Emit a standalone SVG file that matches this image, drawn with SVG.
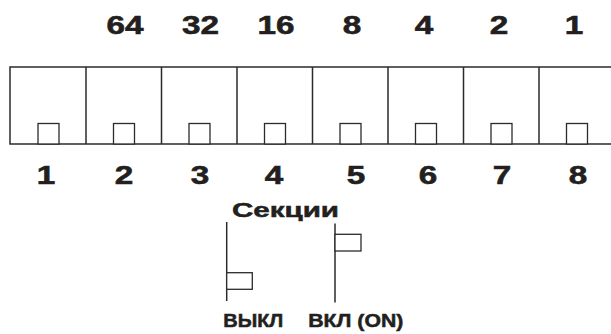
<svg xmlns="http://www.w3.org/2000/svg" width="611" height="334" viewBox="0 0 611 334">
<style>
.num{font-family:"Liberation Sans",Arial,sans-serif;font-weight:bold;font-size:26px;fill:#231f20;stroke:#231f20;stroke-width:0.6;text-anchor:middle}
.lbl{font-family:"Liberation Sans",Arial,sans-serif;font-weight:bold;fill:#231f20;stroke:#231f20;stroke-width:0.5}
.ln{stroke:#2b2b2b;stroke-width:1.5;fill:none}
.sq{stroke:#2b2b2b;stroke-width:1.3;fill:#fff}
</style>
<rect width="611" height="334" fill="#fff"/>
<g id="weights">
<text class="num" transform="translate(125,34) scale(1.28,1)">64</text>
<text class="num" transform="translate(200.5,34) scale(1.28,1)">32</text>
<text class="num" transform="translate(276,34) scale(1.28,1)">16</text>
<text class="num" transform="translate(352,34) scale(1.28,1)">8</text>
<text class="num" transform="translate(424,34) scale(1.28,1)">4</text>
<text class="num" transform="translate(499,34) scale(1.28,1)">2</text>
<text class="num" transform="translate(574,34) scale(1.28,1)">1</text>
</g>
<g id="switch-block">
<path class="ln" d="M611,67 H10 V144 H611"/>
<path class="ln" d="M86,67 V144 M161.5,67 V144 M237,67 V144 M312.5,67 V144 M388,67 V144 M463.5,67 V144 M539,67 V144"/>
</g>
<g id="sections">
<rect class="sq" x="38" y="123.5" width="21" height="20.5"/>
<rect class="sq" x="113.5" y="123.5" width="21" height="20.5"/>
<rect class="sq" x="189" y="123.5" width="21" height="20.5"/>
<rect class="sq" x="264.5" y="123.5" width="21" height="20.5"/>
<rect class="sq" x="340" y="123.5" width="21" height="20.5"/>
<rect class="sq" x="415.5" y="123.5" width="21" height="20.5"/>
<rect class="sq" x="491" y="123.5" width="21" height="20.5"/>
<rect class="sq" x="566.5" y="123.5" width="21" height="20.5"/>
</g>
<g id="section-numbers">
<text class="num" transform="translate(46,184) scale(1.28,1)">1</text>
<text class="num" transform="translate(124,184) scale(1.28,1)">2</text>
<text class="num" transform="translate(200,184) scale(1.28,1)">3</text>
<text class="num" transform="translate(274,184) scale(1.28,1)">4</text>
<text class="num" transform="translate(356,184) scale(1.28,1)">5</text>
<text class="num" transform="translate(428,184) scale(1.28,1)">6</text>
<text class="num" transform="translate(502,184) scale(1.28,1)">7</text>
<text class="num" transform="translate(578,184) scale(1.28,1)">8</text>
</g>
<g id="title">
<text class="lbl" x="232" y="217" font-size="21" textLength="107" lengthAdjust="spacingAndGlyphs">Секции</text>
</g>
<g id="off-legend">
<path class="ln" d="M226.7,222 V301"/>
<rect class="sq" x="226.7" y="272.7" width="25.6" height="16.6"/>
<text class="lbl" x="223.3" y="327" font-size="18" textLength="60" lengthAdjust="spacingAndGlyphs">ВЫКЛ</text>
</g>
<g id="on-legend">
<path class="ln" d="M335,223.5 V302.5"/>
<rect class="sq" x="335" y="234.3" width="26" height="16.7"/>
<text class="lbl" x="308.3" y="327" font-size="18" textLength="95" lengthAdjust="spacingAndGlyphs">ВКЛ (ON)</text>
</g>
</svg>
